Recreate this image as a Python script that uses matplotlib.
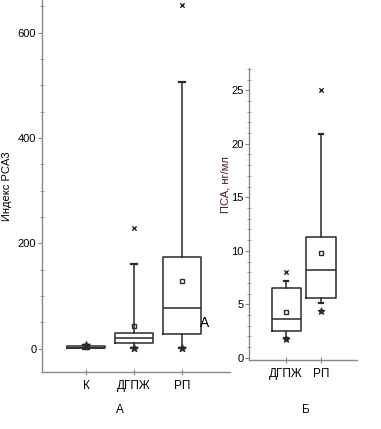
import matplotlib.pyplot as plt
from matplotlib.ticker import MultipleLocator

plt.rcParams['font.family'] = ['Liberation Sans Narrow', 'Liberation Sans', 'DejaVu Sans']

# Панель А: индекс PCA3
cats_a = ['К', 'ДГПЖ', 'РП']
q1_a = [1, 10, 28]
med_a = [2, 21, 78]
q3_a = [5, 30, 175]
whislo_a = [0, 2, 2]
whishi_a = [7, 161, 507]
mean_a = [4, 44, 129]
low_a = [7, 2, 2]        # звёздочки
out_a = [None, 230, 653]  # крестики

# Панель Б: ПСА, нг/мл
cats_b = ['ДГПЖ', 'РП']
q1_b = [2.5, 5.6]
med_b = [3.6, 8.2]
q3_b = [6.5, 11.3]
whislo_b = [1.9, 5.1]
whishi_b = [7.2, 20.9]
mean_b = [4.3, 9.8]
low_b = [1.8, 4.4]
high_b = [8.0, None]
out_b = [None, 25.0]

line_c = '#2a2a2a'
spine_c = '#8a8a8a'


def draw(ax, q1, med, q3, lo, hi, mean, width):
    stats = []
    for i in range(len(q1)):
        stats.append(dict(q1=q1[i], med=med[i], q3=q3[i], whislo=lo[i],
                          whishi=hi[i], mean=mean[i], fliers=[]))
    pos = list(range(1, len(q1) + 1))
    ax.bxp(stats, positions=pos, widths=width, showmeans=True,
           showfliers=False, capwidths=width * 0.15,
           boxprops=dict(color=line_c, lw=1.1),
           medianprops=dict(color=line_c, lw=1.1),
           whiskerprops=dict(color=line_c, lw=1.1),
           capprops=dict(color=line_c, lw=1.6),
           meanprops=dict(marker='s', markerfacecolor='none',
                          markeredgecolor=line_c, markersize=3.5, mew=1))
    return pos


def style(ax):
    for s in ['top', 'right']:
        ax.spines[s].set_visible(False)
    for s in ['left', 'bottom']:
        ax.spines[s].set_color(spine_c)
        ax.spines[s].set_linewidth(1.0)
    ax.tick_params(axis='y', which='major', direction='out', length=3,
                   color=spine_c, labelsize=8, pad=1)
    ax.tick_params(axis='y', which='minor', direction='inout', length=3,
                   color=spine_c)
    ax.tick_params(axis='x', direction='inout', length=4, color=spine_c,
                   labelsize=8.5, pad=4)


fig = plt.figure(figsize=(3.81, 4.29), dpi=100)

# А
ax1 = fig.add_axes([0.110, 0.133, 0.493, 0.867])
pos = draw(ax1, q1_a, med_a, q3_a, whislo_a, whishi_a, mean_a, 0.79)
ax1.scatter(pos, low_a, marker='*', s=28, color=line_c, zorder=3)
for p, o in zip(pos, out_a):
    if o is not None:
        ax1.scatter([p], [o], marker='x', s=10, color=line_c, lw=1, zorder=3)
ax1.set_xlim(0.08, 4.0)
ax1.set_ylim(-44, 662)
ax1.set_yticks([0, 200, 400, 600])
ax1.yaxis.set_minor_locator(MultipleLocator(50))
ax1.set_xticks(pos)
ax1.set_xticklabels(cats_a)
ax1.set_ylabel('Индекс PCA3', fontsize=8, labelpad=4)
ax1.text(3.37, 49, 'A', fontsize=10, ha='left', va='center', color='black')
style(ax1)
fig.text(120 / 381, 1 - 410 / 429, 'А', fontsize=8.5, ha='center', va='center')

# Б
ax2 = fig.add_axes([0.654, 0.161, 0.283, 0.681])
pos = draw(ax2, q1_b, med_b, q3_b, whislo_b, whishi_b, mean_b, 0.84)
ax2.scatter(pos, low_b, marker='*', s=22, color=line_c, zorder=3)
for p, h in zip(pos, high_b):
    if h is not None:
        ax2.scatter([p], [h], marker='x', s=10, color=line_c, lw=1, zorder=3)
for p, o in zip(pos, out_b):
    if o is not None:
        ax2.scatter([p], [o], marker='x', s=10, color=line_c, lw=1, zorder=3)
ax2.set_xlim(-0.06, 3.03)
ax2.set_ylim(-0.19, 27.1)
ax2.set_yticks([0, 5, 10, 15, 20, 25])
ax2.yaxis.set_minor_locator(MultipleLocator(1))
ax2.set_xticks(pos)
ax2.set_xticklabels(cats_b)
ax2.set_ylabel('ПСА, нг/мл', fontsize=8, color='#4a1818')
ax2.yaxis.set_label_coords(-0.17, 0.6)
style(ax2)
fig.text(306 / 381, 1 - 410 / 429, 'Б', fontsize=8.5, ha='center', va='center')

fig.savefig('out.png', dpi=100)
